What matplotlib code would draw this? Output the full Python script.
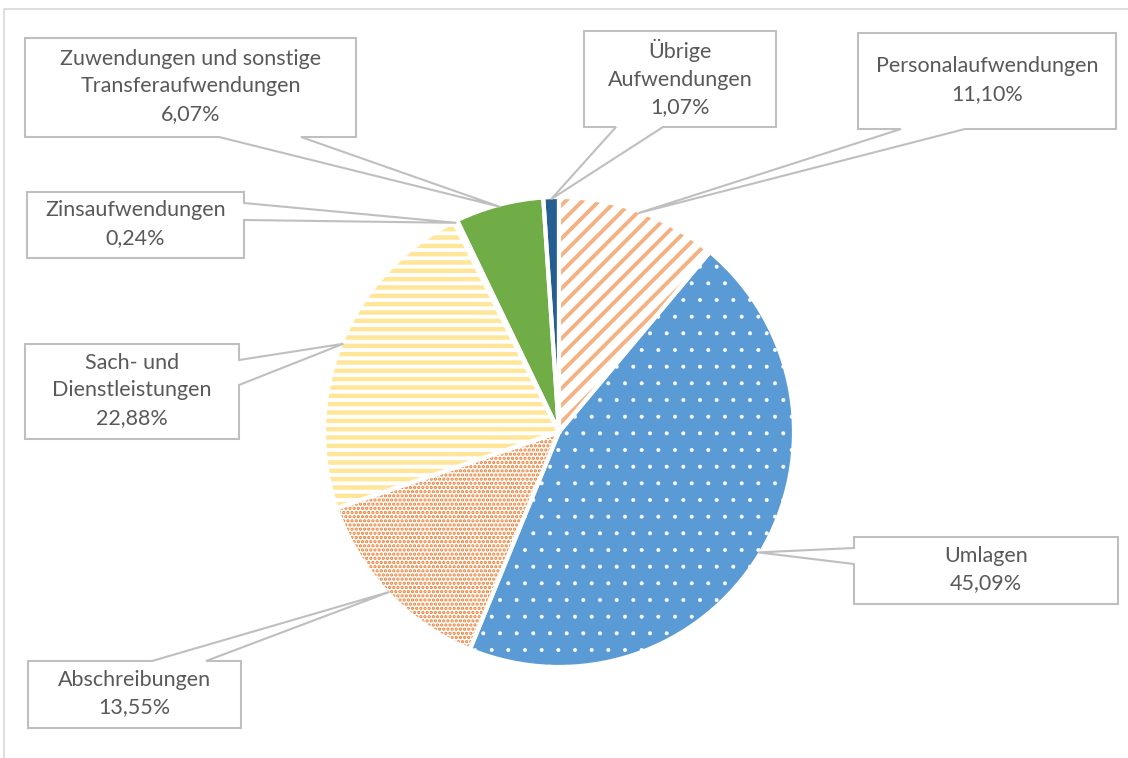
import numpy as np
import matplotlib
matplotlib.use('Agg')
import matplotlib.pyplot as plt
from matplotlib.patches import Polygon, Rectangle

W, H = 1128, 758

# Daten (Anteile in %)
kategorien = ['Personalaufwendungen', 'Umlagen', 'Abschreibungen',
              'Sach- und\nDienstleistungen', 'Zinsaufwendungen',
              'Zuwendungen und sonstige\nTransferaufwendungen',
              'Übrige\nAufwendungen']
anteile = [11.10, 45.09, 13.55, 22.88, 0.24, 6.07, 1.07]
beschriftungen = ['11,10%', '45,09%', '13,55%', '22,88%', '0,24%', '6,07%', '1,07%']

farben = ['#F4B183', '#5B9BD5', '#ED7D31', '#FFE699', '#A5A5A5', '#70AD47', '#255E91']
# (Fläche, Schraffurfarbe, Schraffur, Linienbreite)
muster = [('white', '#F4B183', '//', 2.8),
          ('#5B9BD5', 'white', '.', 0.4),
          ('white', '#ED7D31', '....', 1.6),
          ('white', '#FFE699', '--', 3.2),
          ('#A5A5A5', '#A5A5A5', None, 1.0),
          ('#70AD47', '#70AD47', None, 1.0),
          ('#255E91', '#255E91', None, 1.0)]

# Boxen der Beschriftungen (Pixel von oben): x0, y0, x1, y1, Seite, Zeiger-Basis
boxen = [(858, 33, 1116, 129, 'bottom', (901, 965)),
         (854, 537, 1118, 604, 'left', (548, 564)),
         (28, 661, 241, 728, 'top', (152, 206)),
         (25, 344, 239, 439, 'right', (360, 385)),
         (27, 192, 244, 258, 'right', (203, 220)),
         (25, 38, 356, 137, 'bottom', (219, 301)),
         (584, 31, 776, 127, 'bottom', (616, 663))]

CX, CY, R = 559, 432, 235

fig = plt.figure(figsize=(W / 100, H / 100), dpi=100)
ax = fig.add_axes([0, 0, 1, 1])

keile, _ = ax.pie(anteile, colors=farben, startangle=90, counterclock=False,
                  center=(CX, H - CY), radius=R, wedgeprops=dict(linewidth=0))
for k, (fc, hc, h, lw) in zip(keile, muster):
    k.set_facecolor(fc)
    k.set_edgecolor(hc)
    k.set_linewidth(0)
    if h:
        k.set_hatch(h)
        if hasattr(k, 'set_hatch_linewidth'):
            k.set_hatch_linewidth(lw)

# weiße Trennlinien
ax.pie(anteile, colors=['none'] * len(anteile), startangle=90, counterclock=False,
       center=(CX, H - CY), radius=R,
       wedgeprops=dict(linewidth=3, edgecolor='white', facecolor='none'))

# Beschriftungen mit Zeiger
for k, kat, txt, (x0, y0, x1, y1, seite, (a, b)) in zip(keile, kategorien, beschriftungen, boxen):
    mitte = np.deg2rad((k.theta1 + k.theta2) / 2)
    tx = k.center[0] + (k.r - 2) * np.cos(mitte)
    ty = H - (k.center[1] + (k.r - 2) * np.sin(mitte))
    spitze = (tx, ty)
    pts = [(x0, y0)]
    if seite == 'top':
        pts += [(a, y0), spitze, (b, y0)]
    pts += [(x1, y0)]
    if seite == 'right':
        pts += [(x1, a), spitze, (x1, b)]
    pts += [(x1, y1)]
    if seite == 'bottom':
        pts += [(b, y1), spitze, (a, y1)]
    pts += [(x0, y1)]
    if seite == 'left':
        pts += [(x0, b), spitze, (x0, a)]
    pts = [(x, H - y) for x, y in pts]
    ax.add_patch(Polygon(pts, closed=True, facecolor='white', edgecolor='#BFBFBF',
                         linewidth=1.5, zorder=5))
    ax.text((x0 + x1) / 2, H - (y0 + y1) / 2 + 1, kat + '\n' + txt, ha='center', va='center',
            fontsize=15.5, family='Lato', color='#595959', linespacing=1.45, zorder=6)

# Rahmen des Diagramms
ax.add_patch(Rectangle((4, -10), W + 10, H - 9 + 10, facecolor='none',
                       edgecolor='#D9D9D9', linewidth=1.2, zorder=0))

ax.set_xlim(0, W)
ax.set_ylim(0, H)
ax.set_aspect('equal')
ax.axis('off')

fig.savefig('out.png', dpi=100)
